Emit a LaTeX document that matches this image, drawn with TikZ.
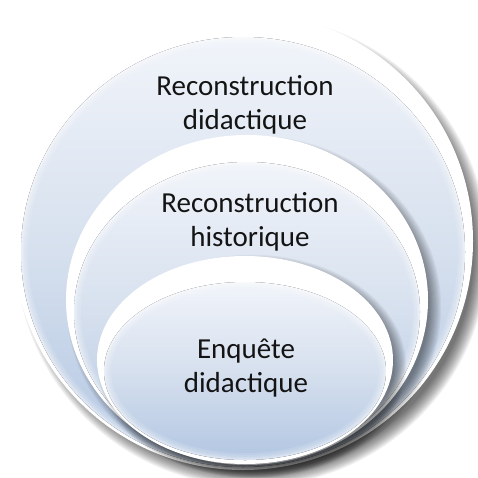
\documentclass[tikz,border=0pt]{standalone}
\usepackage{fontspec}
\setmainfont{Carlito}
\definecolor{bubtop}{HTML}{F1F4FA}
\definecolor{bubmid}{HTML}{D6E0EE}
\definecolor{bubbot}{HTML}{B2C6E2}
\newcommand\mybubble[7]{%
  % #1 cx, #2 cy, #3 rx, #4 ry, #5 dy, #6 drx, #7 dry
  \fill[rim] (#1,#2) ellipse [x radius=#3pt, y radius=#4pt];
  \pgfmathsetmacro\yy{#2+#5}%
  \pgfmathsetmacro\rxx{#3-#6}%
  \pgfmathsetmacro\ryy{#4-#7}%
  \fill[body] (#1,\yy) ellipse [x radius=\rxx pt, y radius=\ryy pt];
  \begin{scope}
    \clip (#1,\yy) ellipse [x radius=\rxx pt, y radius=\ryy pt];
    \foreach \w/\o in {14/0.12, 10/0.14, 6/0.18, 3/0.25}
      \draw[white, line width=\w pt, opacity=\o] (#1,\yy) ellipse [x radius=\rxx pt, y radius=\ryy pt];
  \end{scope}
}
\begin{document}
\begin{tikzpicture}[x=1pt,y=-1pt,
  lbl/.style={font=\fontsize{29}{34}\selectfont, align=center, inner sep=0pt, text=black!92},
  rim/.style={fill=white},
  body/.style={top color=bubtop, bottom color=bubbot, middle color=bubmid, draw=none}]
\useasboundingbox (0,0) rectangle (478,477);
\fill[white] (0,0) rectangle (478,477);
% outer bubble
\foreach \i in {1,...,14}
  \fill[black, opacity=0.05] (252,251) ellipse [x radius={221pt+\i*1.1pt}, y radius={220pt+\i*1.1pt}];
\mybubble{243}{241}{230}{229}{11}{8}{14}
% middle bubble
\foreach \i in {1,...,12}
  \fill[black, opacity=0.045] (254,307) ellipse [x radius={174pt+\i*1.1pt}, y radius={158pt+\i*1.1pt}];
\mybubble{247}{300}{181}{165}{12}{8}{15}
% inner bubble
\foreach \i in {1,...,12}
  \fill[black, opacity=0.045] (252,366) ellipse [x radius={141pt+\i*1.1pt}, y radius={98pt+\i*1.1pt}];
\mybubble{245}{360}{148}{104}{11}{7}{15}
% labels
\node[lbl] (t1) at (245,105) {Reconstruction\\didactique};
\node[lbl] (t2) at (250,222) {Reconstruction\\historique};
\node[lbl] (t3) at (246,368) {Enquête\\didactique};
\end{tikzpicture}
\end{document}
